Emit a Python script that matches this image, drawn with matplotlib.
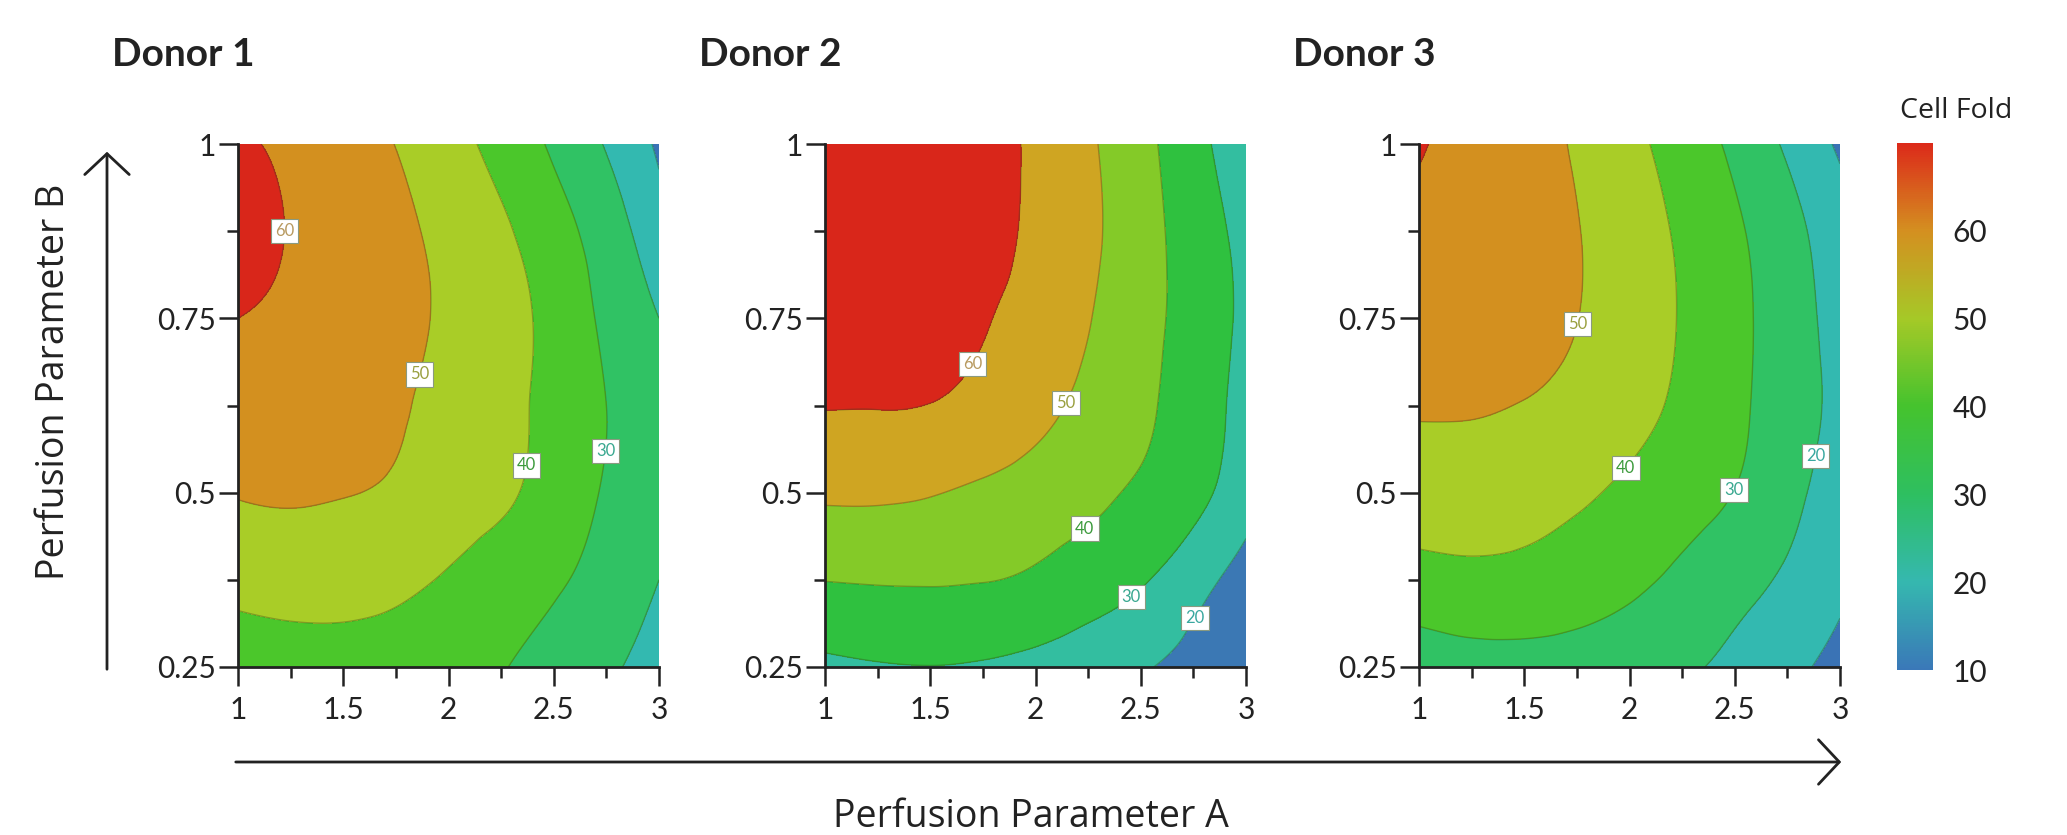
import matplotlib
matplotlib.use("Agg")
import matplotlib.pyplot as plt
import matplotlib.tri as mtri
import numpy as np
from matplotlib.colors import LinearSegmentedColormap, Normalize
from matplotlib.cm import ScalarMappable
from matplotlib.patches import FancyArrowPatch
from matplotlib.ticker import MultipleLocator

plt.rcParams["font.family"] = ["Lato", "DejaVu Sans"]
WIDE = ["Open Sans", "DejaVu Sans"]

# grid: perfusion parameter A (x) and B (y)
param_a = [1.0, 1.25, 1.5, 1.75, 2.0, 2.25, 2.5, 2.75, 3.0]
param_b = [0.25, 0.375, 0.5, 0.625, 0.75, 0.875, 1.0]

# cell fold, one row per B value (bottom row first)
donor1 = [
    [34.5, 35.5, 35.5, 34.5, 33.0, 30.5, 26.0, 21.5, 16.5],
    [43.0, 44.0, 44.0, 42.5, 39.0, 35.5, 31.5, 26.0, 20.0],
    [50.5, 51.0, 50.3, 48.8, 45.0, 41.5, 36.0, 29.0, 23.0],
    [55.5, 55.0, 53.5, 51.0, 47.5, 43.0, 37.0, 30.0, 23.0],
    [60.0, 58.0, 55.5, 52.5, 48.5, 43.5, 37.0, 28.0, 20.0],
    [64.0, 59.5, 56.0, 52.5, 47.0, 41.5, 34.0, 25.0, 14.0],
    [61.5, 58.2, 54.5, 49.8, 43.5, 36.8, 28.5, 19.3, 8.5],
]
donor2 = [
    [28.0, 29.3, 29.8, 29.0, 27.0, 24.5, 21.0, 16.5, 11.0],
    [40.2, 40.7, 40.8, 40.3, 38.5, 35.0, 31.0, 24.0, 16.0],
    [51.5, 51.5, 50.5, 48.5, 46.0, 42.5, 38.5, 33.0, 24.0],
    [60.5, 60.4, 59.8, 57.0, 53.0, 47.5, 42.0, 35.0, 27.0],
    [68.0, 67.0, 65.0, 60.8, 56.5, 50.5, 43.5, 36.0, 28.0],
    [69.5, 68.5, 66.5, 63.5, 58.0, 52.0, 44.0, 35.5, 27.0],
    [69.0, 68.0, 66.0, 63.0, 58.5, 51.5, 43.0, 33.5, 23.0],
]
donor3 = [
    [23.5, 25.8, 26.0, 25.5, 23.5, 21.5, 17.5, 12.5, 7.0],
    [36.5, 37.5, 37.0, 35.0, 32.0, 28.0, 23.5, 18.5, 12.0],
    [45.0, 45.3, 44.0, 41.5, 38.0, 34.0, 29.8, 23.0, 15.0],
    [51.0, 50.8, 49.7, 47.5, 43.5, 38.0, 32.0, 25.0, 17.5],
    [55.5, 54.5, 52.5, 50.1, 45.5, 39.3, 32.5, 25.0, 16.0],
    [58.5, 56.5, 53.5, 50.3, 45.0, 38.5, 31.5, 23.5, 14.0],
    [60.5, 57.5, 54.0, 49.0, 42.8, 35.5, 28.0, 18.5, 8.5],
]

titles = ["Donor 1", "Donor 2", "Donor 3"]
levels = [[0, 10, 20, 30, 40, 50, 60, 80],
          [0, 20, 30, 40, 50, 60, 80],
          [0, 10, 20, 30, 40, 50, 60, 80]]
# where the in-plot labels sit
label_pos = [
    [(2.75, 0.56), (2.35, 0.54), (1.92, 0.665), (1.22, 0.875)],
    [(2.79, 0.314), (2.45, 0.352), (2.23, 0.45), (2.14, 0.629), (1.67, 0.69)],
    [(2.89, 0.552), (2.48, 0.506), (2.0, 0.531), (1.72, 0.744)],
]

band_colors = [
    ["#3a73b5", "#33b9b0", "#30c264", "#4bc72b", "#a9cd27", "#d3901f", "#d9261a"],
    ["#3b78b4", "#33bea0", "#2fc13f", "#84ca28", "#cfa522", "#d9261a"],
    ["#3a73b5", "#33b9b0", "#30c264", "#4bc72b", "#a9cd27", "#d3901f", "#d9261a"],
]
label_colors = {20: "#3aa8a0", 30: "#3aa890", 40: "#3c9a3c", 50: "#9aa040", 60: "#b89a60"}

cbar_stops = ["#3a78b8", "#35b8af", "#2ebf60", "#45c32e", "#a5c927", "#d49020", "#dc2a1a"]
cmap = LinearSegmentedColormap.from_list("cellfold", cbar_stops)

W, H = 2067, 835
fig = plt.figure(figsize=(W / 100, H / 100), dpi=100)

ax_lefts = [238, 825, 1419]
ax_w, ax_top, ax_bot = 421, 144, 667

X, Y = np.meshgrid(param_a, param_b)
for i, data in enumerate([donor1, donor2, donor3]):
    ax = fig.add_axes([ax_lefts[i] / W, 1 - ax_bot / H, ax_w / W, (ax_bot - ax_top) / H])
    Z = np.array(data)
    triang = mtri.Triangulation(X.ravel(), Y.ravel())
    interp = mtri.CubicTriInterpolator(triang, Z.ravel(), kind="min_E")
    refiner = mtri.UniformTriRefiner(triang)
    tri_ref, z_ref = refiner.refine_field(Z.ravel(), triinterpolator=interp, subdiv=5)

    ax.tricontourf(tri_ref, z_ref, levels=levels[i], colors=band_colors[i])
    cs = ax.tricontour(tri_ref, z_ref, levels=levels[i][1:-1], colors=[(0.2, 0.25, 0.1, 0.35)],
                       linewidths=1.0)
    labs = ax.clabel(cs, manual=label_pos[i], inline=False, fontsize=12, fmt="%d")
    for t in labs:
        lv = int(round(float(t.get_text())))
        t.set_rotation(0)
        t.set_color(label_colors.get(lv, "#555555"))
        t.set_bbox(dict(boxstyle="square,pad=0.25", fc="white", ec="#8a9a80", lw=0.8))
        t.set_zorder(6)

    ax.set_xlim(1, 3)
    ax.set_ylim(0.25, 1)
    ax.xaxis.set_major_locator(MultipleLocator(0.5))
    ax.xaxis.set_minor_locator(MultipleLocator(0.25))
    ax.yaxis.set_major_locator(MultipleLocator(0.25))
    ax.yaxis.set_minor_locator(MultipleLocator(0.125))
    ax.xaxis.set_major_formatter(lambda v, p: f"{v:g}")
    ax.yaxis.set_major_formatter(lambda v, p: f"{v:g}")
    ax.tick_params(which="major", length=14, width=1.8, labelsize=21.5, color="#222222",
                   labelcolor="#222222")
    ax.tick_params(axis="x", which="major", pad=7)
    ax.tick_params(axis="y", which="major", pad=2)
    ax.tick_params(which="minor", length=8, width=1.8, color="#222222")
    for s in ["top", "right"]:
        ax.spines[s].set_visible(False)
    for s in ["left", "bottom"]:
        ax.spines[s].set_linewidth(2)
        ax.spines[s].set_color("#222222")
        ax.spines[s].set_zorder(5)

    fig.text((ax_lefts[i] - 126) / W, 1 - 66 / H, titles[i], fontsize=28, fontweight="bold",
             color="#222222", va="baseline", ha="left")

# colour bar
cax = fig.add_axes([1897 / W, 1 - 670 / H, 36 / W, 527 / H])
cb = fig.colorbar(ScalarMappable(norm=Normalize(10, 70), cmap=cmap), cax=cax,
                  ticks=[10, 20, 30, 40, 50, 60])
cb.outline.set_visible(False)
cax.tick_params(length=0, labelsize=21.5, pad=14, labelcolor="#222222")
fig.text(1900 / W, 1 - 118 / H, "Cell Fold", fontsize=20.5, color="#222222", va="baseline",
         family=WIDE)

# axis arrows
arrow_kw = dict(arrowstyle="->,head_length=0.75,head_width=0.8", mutation_scale=20,
                lw=2, color="#222222", transform=fig.transFigure)
fig.add_artist(FancyArrowPatch((107 / W, 1 - 672 / H), (107 / W, 1 - 149 / H), **arrow_kw))
fig.add_artist(FancyArrowPatch((233 / W, 1 - 762 / H), (1844 / W, 1 - 762 / H), **arrow_kw))

fig.text(1031 / W, 1 - 817 / H, "Perfusion Parameter A", fontsize=27, color="#222222",
         ha="center", va="center", family=WIDE)
fig.text(54 / W, 1 - 382 / H, "Perfusion Parameter B", fontsize=27, color="#222222",
         ha="center", va="center", rotation=90, family=WIDE)

fig.savefig("out.png", dpi=100)
